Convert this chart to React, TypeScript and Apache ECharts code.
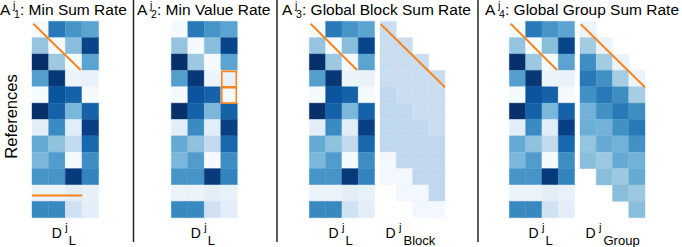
import React, { useEffect, useRef } from "react";
import * as echarts from "echarts";

// ---------- data ----------
// D^j_L : 12 references (rows) x 4 columns, normalised 0..1
const dlValues: number[][] = [
  [0.01, 0.72, 0.61, 0.55],
  [0.4, 0.01, 0.43, 0.92],
  [1.0, 0.38, 0.01, 0.55],
  [0.57, 0.97, 0.06, 0.07],
  [0.01, 0.86, 0.81, 0.01],
  [1.0, 0.81, 0.46, 0.81],
  [0.1, 0.65, 0.11, 0.94],
  [0.52, 0.41, 0.26, 0.79],
  [0.46, 0.58, 0.01, 0.64],
  [0.61, 0.61, 0.96, 0.68],
  [0.06, 0.06, 0.1, 0.08],
  [0.66, 0.66, 0.2, 0.1],
];

// D^j_Block (null = empty cell)
const blockValues: (number | null)[][] = [
  [0.23, null, null, null],
  [0.23, 0.23, null, null],
  [0.23, 0.23, 0.23, null],
  [0.23, 0.23, 0.23, 0.23],
  [0.27, 0.23, 0.23, 0.23],
  [0.27, 0.27, 0.23, 0.23],
  [0.27, 0.27, 0.27, 0.23],
  [0.27, 0.27, 0.27, 0.27],
  [0.02, 0.27, 0.27, 0.27],
  [0.02, 0.02, 0.27, 0.27],
  [null, 0.02, 0.02, 0.27],
  [null, null, 0.02, 0.02],
];

// D^j_Group (null = empty cell)
const groupValues: (number | null)[][] = [
  [0.06, null, null, null],
  [0.36, 0.06, null, null],
  [0.64, 0.36, 0.06, null],
  [0.72, 0.63, 0.35, 0.06],
  [0.63, 0.72, 0.64, 0.35],
  [0.48, 0.63, 0.72, 0.64],
  [0.5, 0.48, 0.63, 0.72],
  [0.4, 0.52, 0.48, 0.63],
  [0.43, 0.38, 0.52, 0.48],
  [null, 0.43, 0.38, 0.52],
  [null, null, 0.43, 0.38],
  [null, null, null, 0.43],
];

const panelTitles = ["Min Sum Rate", "Min Value Rate", "Global Block Sum Rate", "Global Group Sum Rate"];
const panelIndex = ["1", "2", "3", "4"];
const yLabel = "References";
const extraLabels = ["Block", "Group"];

const blues = ["#f7fbff", "#deebf7", "#c6dbef", "#9ecae1", "#6baed6", "#4292c6", "#2171b5", "#08519c", "#08306b"];
const orange = "#f7851f";

// annotation lines in cell units [col, row]
const diagDL = [[0.08, 0.15], [2.92, 2.98]];
const cutLine = [[0, 10.64], [3.02, 10.64]];
const diagWide = [[0.05, 0.18], [4.0, 4.03]];
const boxCells = [[3, 3], [3, 4]];

// ---------- layout ----------
const FONT = '"Liberation Sans", Arial, Helvetica, sans-serif';
const GT = 21.3;
const GH = 196.4;
const grids = [
  { left: 32, top: GT, width: 66.6, height: GH },
  { left: 171.3, top: GT, width: 66, height: GH },
  { left: 309.3, top: GT, width: 65.3, height: GH },
  { left: 380, top: GT, width: 65, height: GH },
  { left: 509.3, top: GT, width: 65.3, height: GH },
  { left: 580, top: GT, width: 65, height: GH },
];
const gridData = [dlValues, dlValues, dlValues, blockValues, dlValues, groupValues];
const titleX = [0, 137, 282, 485];
const separators = [133.5, 277, 478];

function toCells(m: (number | null)[][]) {
  const out: number[][] = [];
  m.forEach((row, r) =>
    row.forEach((v, c) => {
      if (v !== null) out.push([c, r, v]);
    })
  );
  return out;
}

function buildOption() {
  const xAxis = grids.map((_, i) => ({ type: "value", min: 0, max: 4, show: false, gridIndex: i }));
  const yAxis = grids.map((_, i) => ({ type: "value", min: 0, max: 12, inverse: true, show: false, gridIndex: i }));

  const series: any[] = gridData.map((m, i) => ({
    type: "custom",
    coordinateSystem: "cartesian2d",
    xAxisIndex: i,
    yAxisIndex: i,
    data: toCells(m),
    encode: { x: 0, y: 1 },
    silent: true,
    renderItem: (params: any, api: any) => {
      const c = api.value(0);
      const r = api.value(1);
      const p0 = api.coord([c, r]);
      const p1 = api.coord([c + 1, r + 1]);
      const col = api.visual("color");
      return {
        type: "rect",
        shape: { x: p0[0], y: p0[1], width: p1[0] - p0[0], height: p1[1] - p0[1] },
        style: { fill: col, stroke: col, lineWidth: 0.4 },
      };
    },
  }));
  const cellSeriesIdx = series.map((_, i) => i);

  const lineSeries = (gi: number, pts: number[][]) => ({
    type: "line",
    xAxisIndex: gi,
    yAxisIndex: gi,
    data: pts,
    showSymbol: false,
    symbol: "none",
    clip: false,
    silent: true,
    z: 5,
    lineStyle: { color: orange, width: 2 },
  });
  series.push(lineSeries(0, diagDL));
  series.push(lineSeries(0, cutLine));
  series.push(lineSeries(2, diagDL));
  series.push(lineSeries(3, diagWide));
  series.push(lineSeries(4, diagDL));
  series.push(lineSeries(5, diagWide));
  series.push({
    type: "custom",
    coordinateSystem: "cartesian2d",
    xAxisIndex: 1,
    yAxisIndex: 1,
    data: boxCells,
    encode: { x: 0, y: 1 },
    silent: true,
    z: 5,
    renderItem: (params: any, api: any) => {
      const c = api.value(0);
      const r = api.value(1);
      const p0 = api.coord([c, r]);
      const p1 = api.coord([c + 1, r + 1]);
      return {
        type: "rect",
        shape: { x: p0[0] + 1, y: p0[1] + 1, width: p1[0] - p0[0] - 2, height: p1[1] - p0[1] - 1 },
        style: { fill: "none", stroke: orange, lineWidth: 1.6 },
      };
    },
  });

  const graphic: any[] = [];
  separators.forEach((x) =>
    graphic.push({
      type: "line",
      shape: { x1: x, y1: 0, x2: x, y2: 242 },
      style: { stroke: "#222", lineWidth: 1.5 },
      silent: true,
    })
  );
  const txt = (text: string, x: number, y: number, size: number, extra: any = {}) => ({
    type: "text",
    x,
    y,
    silent: true,
    ...extra,
    style: { text, fill: "#000", font: `${size}px ${FONT}`, verticalAlign: "middle", align: extra.align || "left" },
  });
  titleX.forEach((x0, p) => {
    graphic.push(txt("A", x0, 9.5, 15.5));
    graphic.push(txt("j", x0 + 13, 5, 10.5));
    graphic.push(txt(panelIndex[p], x0 + 14, 14.4, 10.5));
    graphic.push(txt(": " + panelTitles[p], x0 + 20, 9.5, 15.5));
  });
  graphic.push(txt(yLabel, 10.5, 116.5, 16.5, { rotation: Math.PI / 2, align: "center" }));
  [0, 1, 2, 4].forEach((gi) => {
    const g = grids[gi];
    const c = g.left + g.width / 2;
    graphic.push(txt("D", c - 13.5, 233.3, 14));
    graphic.push(txt("j", c, 227, 11));
    graphic.push(txt("L", c + 3.5, 240, 13));
  });
  [3, 5].forEach((gi, k) => {
    const g = grids[gi];
    const c = g.left + g.width / 2;
    graphic.push(txt("D", c - 27, 233.3, 14));
    graphic.push(txt("j", c - 13.5, 227, 11));
    graphic.push(txt(extraLabels[k], c - 9, 240, 13));
  });

  return {
    animation: false,
    backgroundColor: "#fff",
    grid: grids,
    xAxis,
    yAxis,
    visualMap: {
      type: "continuous",
      show: false,
      min: 0,
      max: 1,
      dimension: 2,
      seriesIndex: cellSeriesIdx,
      inRange: { color: blues },
    },
    series,
    graphic,
  };
}

export default function App() {
  const ref = useRef<HTMLDivElement>(null);
  useEffect(() => {
    if (!ref.current) return;
    const chart = echarts.init(ref.current, null, { renderer: "svg", width: 682, height: 247 });
    chart.setOption(buildOption() as any);
    return () => chart.dispose();
  }, []);
  return (
    <div
      ref={ref}
      style={{ position: "fixed", left: 0, top: 0, width: 682, height: 247, background: "#fff" }}
    />
  );
}
